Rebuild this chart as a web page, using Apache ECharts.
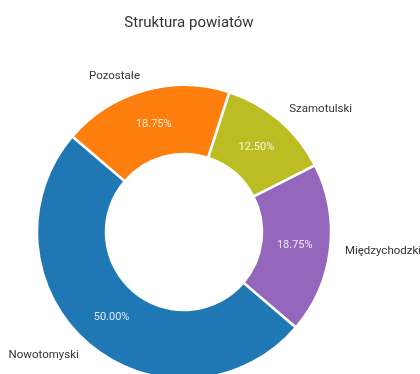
<!DOCTYPE html>
<html>
<head>
<meta charset="utf-8">
<script src="https://cdn.jsdelivr.net/npm/echarts@6/dist/echarts.min.js"></script>
<style>
html,body{margin:0;padding:0;background:#fff;}
#chart{width:420px;height:374px;}
</style>
</head>
<body>
<div id="chart"></div>
<script>
const titleText = 'Struktura powiatów';
const categories = ['Pozostałe', 'Szamotulski', 'Międzychodzki', 'Nowotomyski'];
const values = [18.75, 12.5, 18.75, 50];
const colors = ['#ff7f0e', '#bcbd22', '#9467bd', '#1f77b4'];

const data = categories.map((c, i) => ({ name: c, value: values[i], itemStyle: { color: colors[i] } }));
const plain = categories.map((c, i) => ({ name: c, value: values[i] }));
const font = 'Roboto, "Open Sans", sans-serif';

const chart = echarts.init(document.getElementById('chart'), null, { renderer: 'canvas' });
chart.setOption({
  animation: false,
  backgroundColor: '#fff',
  title: {
    text: titleText,
    left: 184, top: 11, textAlign: 'center',
    textStyle: { fontFamily: font, fontSize: 15, fontWeight: 'normal', color: '#333' }
  },
  series: [
    {
      type: 'pie',
      center: [184, 232],
      radius: [78, 147],
      startAngle: 139.5,
      clockwise: true,
      avoidLabelOverlap: false,
      itemStyle: { borderColor: '#fff', borderWidth: 2.5 },
      label: { show: false },
      labelLine: { show: false },
      data: data
    },
    {
      type: 'pie',
      center: [184, 232],
      radius: [70, 147],
      startAngle: 139.5,
      clockwise: true,
      silent: true,
      avoidLabelOverlap: false,
      itemStyle: { color: 'rgba(0,0,0,0)', borderWidth: 0 },
      label: {
        show: true, position: 'inside',
        formatter: p => p.value.toFixed(2) + '%',
        color: 'rgba(255,255,255,0.85)', fontFamily: font, fontSize: 11
      },
      labelLine: { show: false },
      data: plain
    },
    {
      type: 'pie',
      center: [184, 232],
      radius: [78, 147],
      startAngle: 139.5,
      clockwise: true,
      silent: true,
      avoidLabelOverlap: false,
      itemStyle: { color: 'rgba(0,0,0,0)', borderWidth: 0 },
      label: {
        show: true, position: 'outside',
        formatter: '{b}', distanceToLabelLine: 0,
        color: '#333', fontFamily: font, fontSize: 11.5
      },
      labelLine: { show: false, length: 15, length2: 0 },
      data: plain
    }
  ]
});
</script>
</body>
</html>
